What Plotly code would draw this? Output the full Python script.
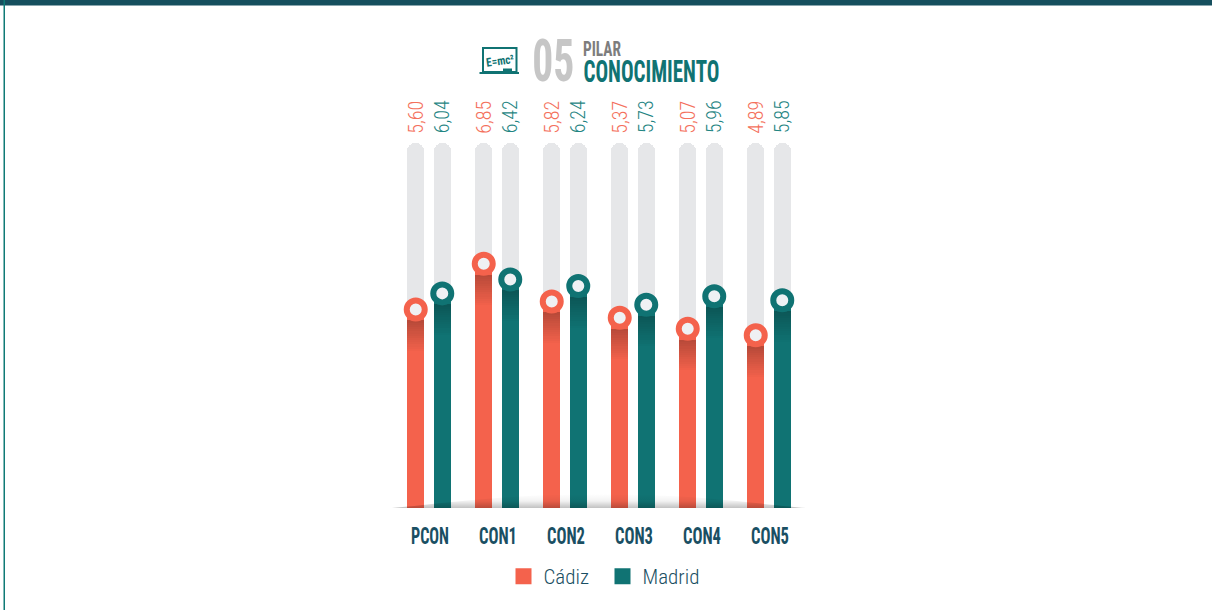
import base64
import plotly.graph_objects as go

categories = ["PCON", "CON1", "CON2", "CON3", "CON4", "CON5"]
cadiz = [5.60, 6.85, 5.82, 5.37, 5.07, 4.89]
madrid = [6.04, 6.42, 6.24, 5.73, 5.96, 5.85]
axis_min = 0.16
track_top = 10.16

ORANGE = "#f4624c"
TEAL = "#107373"
NAVY = "#1a4f63"
COND = "Roboto Condensed"

W, H = 1212, 610
L, R, T, B = 395, 803, 143, 508
PW, PH = R - L, B - T


def px(x):
    return x / W


def py(y):
    return 1 - y / H


xc = [i - 0.195 for i in range(6)]
xm = [i + 0.195 for i in range(6)]
bw = 0.25

fig = go.Figure()
for xs in (xc, xm):
    fig.add_bar(x=xs, y=[track_top] * 6, width=bw, marker=dict(color="#e6e7e9", cornerradius=8.5, line_width=0),
                showlegend=False, hoverinfo="skip")
fig.add_bar(x=xc, y=cadiz, width=bw, marker=dict(color=ORANGE, line_width=0), showlegend=False)
fig.add_bar(x=xm, y=madrid, width=bw, marker=dict(color=TEAL, line_width=0), showlegend=False)

# soft shadow beneath each ring
step = 0.06
for k in range(14):
    alpha = 0.24 * (1 - k / 14)
    fig.add_bar(x=xc + xm, y=[step] * 12, base=[v - 0.3 - step * (k + 1) for v in cadiz + madrid],
                width=bw, marker=dict(color=f"rgba(0,0,0,{alpha:.3f})", line_width=0),
                showlegend=False, hoverinfo="skip")

for xs, vals, col in ((xc, cadiz, ORANGE), (xm, madrid, TEAL)):
    fig.add_scatter(x=xs, y=vals, mode="markers", showlegend=False,
                    marker=dict(size=18, color="#eff1f4", line=dict(color=col, width=6)), cliponaxis=False)

for name, col in (("Cádiz", ORANGE), ("Madrid", TEAL)):
    fig.add_scatter(x=[None], y=[None], mode="markers", name=name,
                    marker=dict(symbol="square", size=16, color=col, line=dict(width=0)))

ann = []
for xs, vals, col in ((xc, cadiz, "#f4705c"), (xm, madrid, "#1f8583")):
    for x, v in zip(xs, vals):
        ann.append(dict(x=px(L + (x + 0.5) * PW / 6), y=py(117), xref="paper", yref="paper",
                        text=f"{v:.2f}".replace(".", ","), xanchor="center", yanchor="middle",
                        textangle=-90, showarrow=False, font=dict(family=COND, size=20, color=col, weight=300)))


def label(x, y, text, size, color, weight=700, angle=0):
    ann.append(dict(x=px(x), y=py(y), xref="paper", yref="paper", text=text, showarrow=False, xanchor="center",
                    yanchor="middle", textangle=angle, font=dict(family=COND, size=size, color=color, weight=weight),
                    borderpad=0, borderwidth=0))


label(553, 61, "05", 60, "#c6c6c6")
label(602, 48.5, "PILAR", 21, "#7d7d7d")
label(651, 71, "CONOCIMIENTO", 31, TEAL)
label(499.5, 61.5, "E=mc²", 12, TEAL, angle=-8)

shapes = [
    dict(type="rect", xref="paper", yref="paper", x0=px(0), x1=px(W), y0=py(0), y1=py(5.5), fillcolor="#164f5e", line_width=0),
    dict(type="rect", xref="paper", yref="paper", x0=px(3.5), x1=px(5), y0=py(0), y1=py(H), fillcolor="#0f7a76", line_width=0),
    dict(type="rect", xref="paper", yref="paper", x0=px(483), x1=px(516.5), y0=py(48), y1=py(72), line=dict(color=TEAL, width=2), fillcolor="#ffffff"),
    dict(type="line", xref="paper", yref="paper", x0=px(479.5), x1=px(519), y0=py(73), y1=py(73), line=dict(color=TEAL, width=2)),
    dict(type="rect", xref="paper", yref="paper", x0=px(503), x1=px(512), y0=py(68.5), y1=py(72), fillcolor=TEAL, line_width=0),
]

svg = ('<svg xmlns="http://www.w3.org/2000/svg" width="414" height="18" viewBox="0 0 414 18" preserveAspectRatio="none">'
       '<defs><linearGradient id="g" x1="0" y1="0" x2="0" y2="1"><stop offset="0" stop-color="#000" stop-opacity="0"/>'
       '<stop offset="0.5" stop-color="#000" stop-opacity="0.05"/>'
       '<stop offset="1" stop-color="#000" stop-opacity="0.24"/></linearGradient></defs>'
       '<path d="M0 18 C 40 15 110 4 207 4 C 304 4 374 15 414 18 Z" fill="url(#g)"/></svg>')
uri = "data:image/svg+xml;base64," + base64.b64encode(svg.encode()).decode()
images = [dict(source=uri, xref="paper", yref="paper", x=px(392), y=py(490), sizex=414 / W, sizey=18 / H,
               xanchor="left", yanchor="top", sizing="stretch", layer="above")]

fig.update_layout(
    width=W, height=H, autosize=False, barmode="overlay", bargap=0,
    margin=dict(l=0, r=0, t=0, b=0, pad=0), paper_bgcolor="white", plot_bgcolor="white",
    xaxis=dict(domain=[px(L), px(R)], range=[-0.5, 5.5], tickmode="array", tickvals=list(range(6)), ticktext=categories,
               showgrid=False, zeroline=False, showline=False, ticks="outside", ticklen=7, tickcolor="rgba(0,0,0,0)",
               ticklabelshift=1, tickfont=dict(family=COND, size=23, color=NAVY, weight=700)),
    yaxis=dict(domain=[py(B), py(T)], range=[axis_min, track_top], visible=False, showgrid=False, zeroline=False),
    legend=dict(orientation="h", x=px(503.5), y=py(556), xanchor="left", yanchor="top", traceorder="normal",
                itemsizing="trace", bgcolor="rgba(0,0,0,0)", font=dict(family=COND, size=21, color=NAVY, weight=300),
                entrywidth=54, entrywidthmode="pixels"),
    annotations=ann, shapes=shapes, images=images, hovermode=False,
)
post = """
document.body.style.margin='0';document.documentElement.style.overflow='hidden';
var fit={'05':42,'PILAR':38,'CONOCIMIENTO':136,'PCON':38,'CON1':38,'CON2':38,'CON3':38,'CON4':38,'CON5':38,'E=mc²':28};
document.querySelectorAll('svg text').forEach(function(t){var w=fit[t.textContent];
 if(w){t.setAttribute('textLength',w);t.setAttribute('lengthAdjust','spacingAndGlyphs');}});
"""
fig.write_html("out.html", config={"displayModeBar": False}, post_script=post)
